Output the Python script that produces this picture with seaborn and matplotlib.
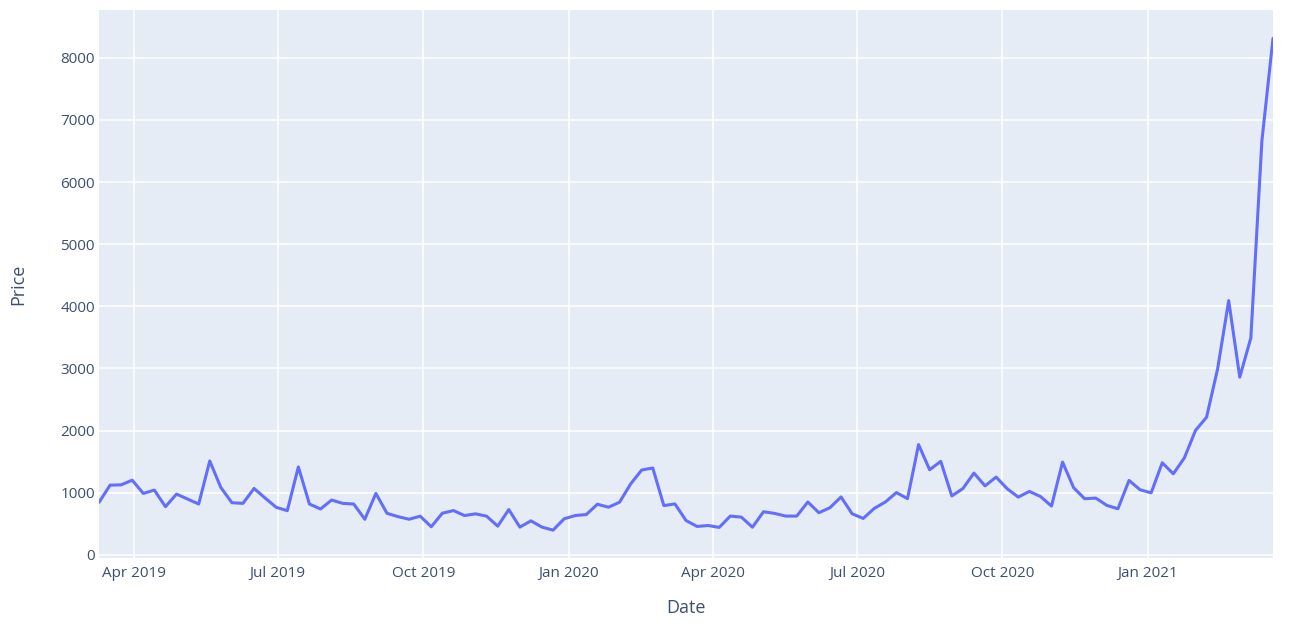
import numpy as np
import pandas as pd
import seaborn as sns
import matplotlib.pyplot as plt
import matplotlib.dates as mdates

# weekly prices (Mar 2019 - Mar 2021)
start_date = '2019-03-10'
prices = [
    843, 1120, 1125, 1200, 987, 1040, 773, 976, 896, 816,
    1509, 1083, 837, 827, 1067, 912, 763, 709, 1413, 816,
    736, 880, 827, 816, 571, 987, 667, 613, 571, 620,
    450, 668, 711, 631, 658, 620, 460, 727, 444, 545,
    444, 396, 578, 631, 647, 813, 765, 845, 1139, 1364,
    1396, 791, 818, 551, 455, 470, 440, 622, 605, 443,
    692, 665, 622, 622, 849, 676, 757, 930, 659, 584,
    746, 849, 1000, 903, 1773, 1368, 1503, 946, 1065, 1314,
    1108, 1250, 1062, 928, 1019, 938, 783, 1491, 1078, 901,
    912, 794, 740, 1196, 1046, 997, 1480, 1303, 1560, 2000,
    2214, 2992, 4091, 2858, 3491, 6670, 8313,
]
dates = pd.date_range(start_date, periods=len(prices), freq='7D')
y_ticks = [0, 1000, 2000, 3000, 4000, 5000, 6000, 7000, 8000]

df = pd.DataFrame({'Date': dates, 'Price': prices})

sns.set_theme(style='darkgrid', rc={
    'axes.facecolor': '#E5ECF6',
    'grid.color': 'white',
    'grid.linewidth': 1.1,
    'axes.edgecolor': '#E5ECF6',
})
plt.rcParams['font.family'] = ['Open Sans', 'DejaVu Sans']

text_col = '#3d4f6e'

fig = plt.figure(figsize=(13.12, 6.44), dpi=100)
ax = fig.add_axes([99 / 1312, 86 / 644, 1174 / 1312, 548 / 644])

sns.lineplot(data=df, x='Date', y='Price', color='#636EFA', linewidth=2.2, ax=ax)

ax.set_xlim(dates[0], dates[-1])
ax.set_ylim(-53, 8771)
ax.set_yticks(y_ticks)
ax.set_yticklabels([str(v) for v in y_ticks])

ax.xaxis.set_major_locator(mdates.MonthLocator(bymonth=[1, 4, 7, 10]))
ax.xaxis.set_major_formatter(mdates.DateFormatter('%b %Y'))

ax.tick_params(axis='both', colors=text_col, labelsize=11, length=0)
ax.tick_params(axis='y', pad=3)
ax.tick_params(axis='x', pad=6)
for lbl in ax.get_xticklabels() + ax.get_yticklabels():
    lbl.set_color(text_col)

ax.set_xlabel('Date', fontsize=13, color=text_col, labelpad=13)
ax.set_ylabel('Price', fontsize=13, color=text_col, labelpad=24)

for s in ax.spines.values():
    s.set_visible(False)

fig.savefig('out.png', dpi=100, facecolor='white')
